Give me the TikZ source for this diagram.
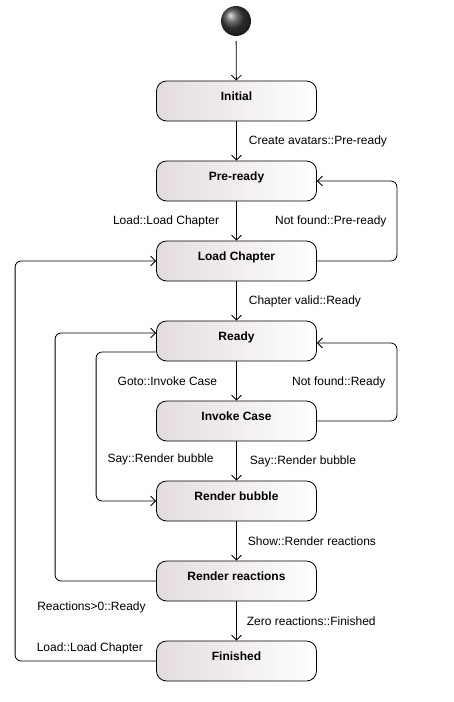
\documentclass[tikz,border=0pt]{standalone}
\usepackage{fontspec}
\setmainfont{Liberation Sans}
\usetikzlibrary{arrows.meta}
\definecolor{stateshade}{RGB}{228,220,220}

\begin{document}
\begin{tikzpicture}[%
        x=1pt, y=-1pt,
        line width=0.8pt,
        state/.style={%
            draw, rounded corners=10pt,
            minimum width=160pt, minimum height=40pt,
            left color=stateshade, right color=white,
            node font=\fontsize{12}{14}\selectfont\bfseries,
            text height=9pt, text depth=11pt,
        },
        trans/.style={%
            draw, rounded corners=6pt,
            -{Straight Barb[length=5pt,width=10pt]},
        },
        translabel/.style={%
            inner sep=0pt,
            node font=\fontsize{12}{14}\selectfont,
        },
    ]

    \useasboundingbox (0,0) rectangle (454,702);

    \node (start) at (236,21) [circle, minimum size=30pt, inner sep=0pt, outer sep=5pt, shading=ball, ball color=black!75] {};

    \node (initial) at (236.5,101) [state] {Initial};
    \node (pre_ready) at (236.5,181) [state] {Pre-ready};
    \node (load_chapter) at (236.5,261) [state] {Load Chapter};
    \node (ready) at (236.5,341) [state] {Ready};
    \node (invoke_case) at (236.5,421) [state] {Invoke Case};
    \node (render_bubble) at (236.5,501) [state] {Render bubble};
    \node (render_reactions) at (236.5,581) [state] {Render reactions};
    \node (finished) at (236.5,661) [state] {Finished};

    % main line
    \draw[trans] (start) -- (initial);
    \draw[trans] (initial) -- node[translabel, right=12pt] (create_label) {Create avatars::Pre-ready} (pre_ready);
    \draw[trans] (pre_ready) -- node[translabel, left=17pt] (load_label) {Load::Load Chapter} (load_chapter);
    \draw[trans] (load_chapter) -- node[translabel, right=12pt] (valid_label) {Chapter valid::Ready} (ready);
    \draw[trans] (ready) -- node[translabel, left=19pt] (goto_label) {Goto::Invoke Case} (invoke_case);
    \draw[trans] (invoke_case) -- node[translabel, right=13pt] (say_label) {Say::Render bubble} (render_bubble);
    \draw[trans] (render_bubble) -- node[translabel, right=11pt] (show_label) {Show::Render reactions} (render_reactions);
    \draw[trans] (render_reactions) -- node[translabel, right=10pt] (zero_label) {Zero reactions::Finished} (finished);

    % loops back
    \draw[trans] (load_chapter.east) -- ++(80,0) |- node[translabel, pos=0.25, left=10pt] (notfound_pre_label) {Not found::Pre-ready} (pre_ready.east);
    \draw[trans] (invoke_case.east) -- ++(80,0) |- node[translabel, pos=0.25, left=11pt] (notfound_ready_label) {Not found::Ready} ([yshift=-2pt]ready.east);
    \draw[trans] ([yshift=-11pt]ready.west) -- ++(-60,0) |- node[translabel, pos=0.36, right=11pt] (say_left_label) {Say::Render bubble} (render_bubble.west);
    \draw[trans] (render_reactions.west) -- node[translabel, pos=0.64, below=20pt] (reactions_label) {Reactions>0::Ready} ++(-101,0) |- ([yshift=8pt]ready.west);
    \draw[trans] (finished.west) -- node[translabel, pos=0.47, above=7pt] (load_left_label) {Load::Load Chapter} ++(-141,0) |- (load_chapter.west);
\end{tikzpicture}
\end{document}
